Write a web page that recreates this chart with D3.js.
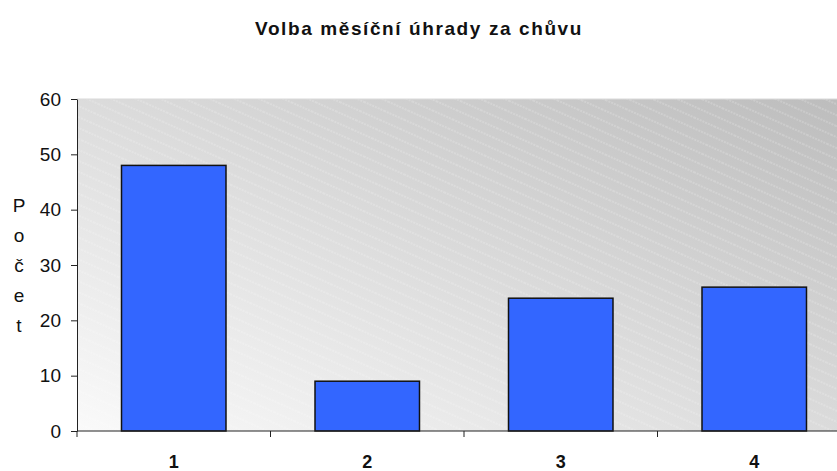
<!DOCTYPE html>
<html>
<head>
<meta charset="utf-8">
<title>Volba měsíční úhrady za chůvu</title>
<script src="https://d3js.org/d3.v7.min.js"></script>
<style>
  body { margin: 0; background: #ffffff; }
  svg { display: block; font-family: Arial, "Liberation Sans", sans-serif; }
</style>
</head>
<body>
<div id="chart"></div>
<script>
// chart values
const categories = ["1", "2", "3", "4"];
const values = [48, 9, 24, 26];
const yTicks = [0, 10, 20, 30, 40, 50, 60];
const titleText = "Volba měsíční úhrady za chůvu";
const yLabel = ["P", "o", "č", "e", "t"];

const W = 837, H = 471;
const plotLeft = 77, plotTop = 99, plotBottom = 431, plotRight = 851; // plot runs off the right edge

const svg = d3.select("#chart").append("svg")
    .attr("width", W)
    .attr("height", H);

const defs = svg.append("defs");

// grey diagonal gradient, light bottom-left -> dark top-right
const grad = defs.append("linearGradient")
    .attr("id", "bg")
    .attr("gradientUnits", "userSpaceOnUse")
    .attr("x1", plotLeft).attr("y1", plotBottom)
    .attr("x2", 328).attr("y2", -127);
grad.append("stop").attr("offset", "0%").attr("stop-color", "#fafafa");
grad.append("stop").attr("offset", "100%").attr("stop-color", "#bdbdbd");

// faint dashed diagonal lines
const pat = defs.append("pattern")
    .attr("id", "stripes")
    .attr("patternUnits", "userSpaceOnUse")
    .attr("width", 22).attr("height", 10)
    .attr("patternTransform", "rotate(24)");
pat.append("line")
    .attr("x1", 0).attr("y1", 5).attr("x2", 22).attr("y2", 5)
    .attr("stroke", "#ffffff")
    .attr("stroke-opacity", 0.35)
    .attr("stroke-width", 1)
    .attr("stroke-dasharray", "2,1");

const x = d3.scaleBand()
    .domain(categories)
    .range([plotLeft, plotRight])
    .padding(0);

const y = d3.scaleLinear()
    .domain([0, 60])
    .range([plotBottom, plotTop]);

// plot background
svg.append("rect")
    .attr("x", plotLeft).attr("y", plotTop)
    .attr("width", plotRight - plotLeft).attr("height", plotBottom - plotTop)
    .attr("fill", "url(#bg)");
svg.append("rect")
    .attr("x", plotLeft).attr("y", plotTop)
    .attr("width", plotRight - plotLeft).attr("height", plotBottom - plotTop)
    .attr("fill", "url(#stripes)");
svg.append("line")
    .attr("x1", plotLeft).attr("x2", plotRight)
    .attr("y1", plotTop).attr("y2", plotTop)
    .attr("stroke", "#d9d9d9");

// bars
const barFrac = 0.54;
svg.selectAll("rect.bar")
    .data(categories)
    .join("rect")
    .attr("class", "bar")
    .attr("x", d => x(d) + x.bandwidth() * (1 - barFrac) / 2)
    .attr("width", x.bandwidth() * barFrac)
    .attr("y", (d, i) => y(values[i]))
    .attr("height", (d, i) => y(0) - y(values[i]))
    .attr("fill", "#3366ff")
    .attr("stroke", "#111111")
    .attr("stroke-width", 1.5);

// y axis
const yAxis = svg.append("g")
    .attr("transform", `translate(${plotLeft},0)`)
    .call(d3.axisLeft(y).tickValues(yTicks).tickSize(6).tickPadding(10).tickSizeOuter(0));
yAxis.select(".domain").attr("stroke", "#222");
yAxis.selectAll(".tick line").attr("stroke", "#222");
yAxis.selectAll(".tick text")
    .attr("font-size", 19)
    .attr("fill", "#111")
    .attr("font-family", "Arial, 'Liberation Sans', sans-serif");

// x axis: line, boundary ticks, bold labels
const xAxis = svg.append("g");
xAxis.append("line")
    .attr("x1", plotLeft).attr("x2", plotRight)
    .attr("y1", plotBottom).attr("y2", plotBottom)
    .attr("stroke", "#222");
const bounds = categories.map(c => x(c)).concat([x(categories[categories.length - 1]) + x.bandwidth()]);
xAxis.selectAll("line.tick")
    .data(bounds)
    .join("line")
    .attr("class", "tick")
    .attr("x1", d => d).attr("x2", d => d)
    .attr("y1", plotBottom).attr("y2", plotBottom + 6)
    .attr("stroke", "#222");
xAxis.selectAll("text")
    .data(categories)
    .join("text")
    .attr("x", d => x(d) + x.bandwidth() / 2)
    .attr("y", 468)
    .attr("text-anchor", "middle")
    .attr("font-size", 18)
    .attr("font-weight", "bold")
    .attr("fill", "#111")
    .text(d => d);

// y label, stacked letters
svg.append("g").selectAll("text")
    .data(yLabel)
    .join("text")
    .attr("x", 19)
    .attr("y", (d, i) => 212 + i * 30)
    .attr("text-anchor", "middle")
    .attr("font-size", 19)
    .attr("fill", "#111")
    .text(d => d);

// title
svg.append("text")
    .attr("x", 419)
    .attr("y", 35)
    .attr("text-anchor", "middle")
    .attr("font-size", 19)
    .attr("font-weight", "bold")
    .attr("letter-spacing", 1.6)
    .attr("fill", "#111")
    .text(titleText);
</script>
</body>
</html>
